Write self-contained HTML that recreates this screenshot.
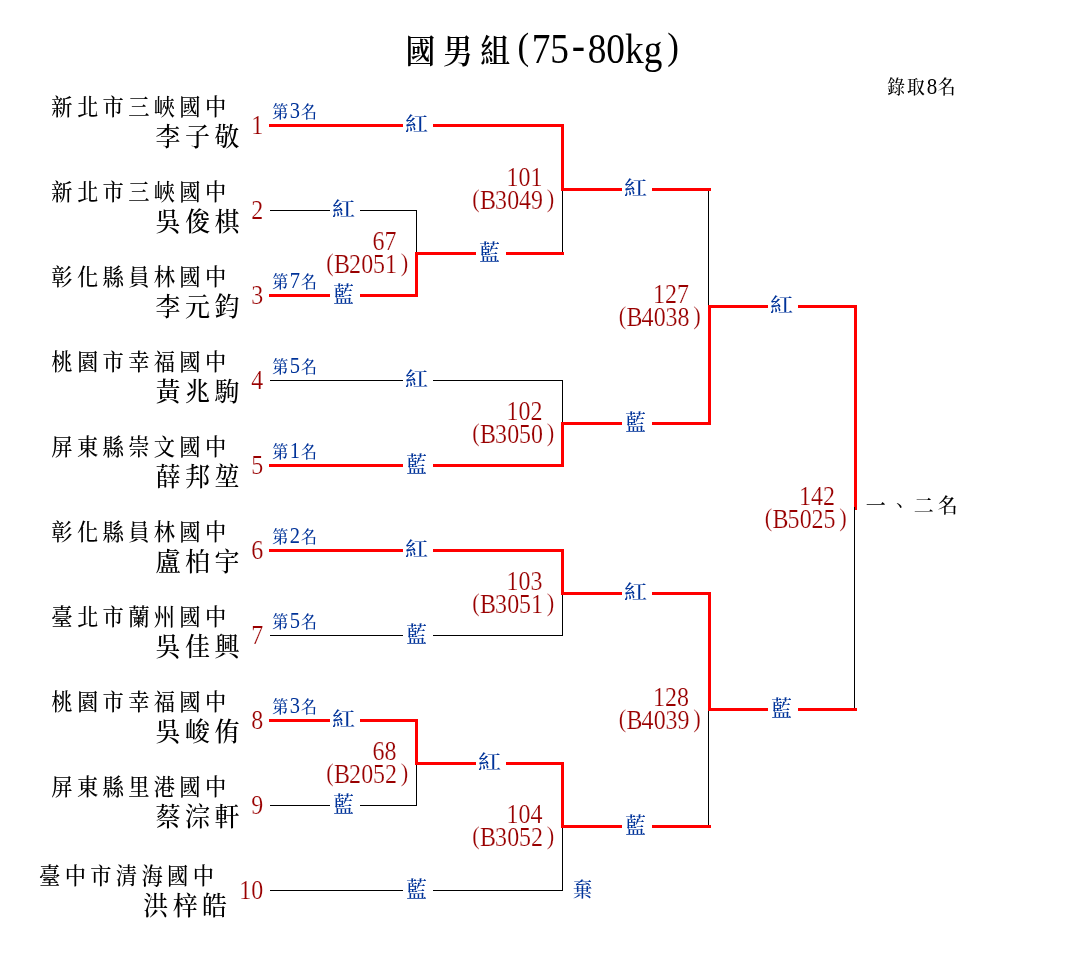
<!DOCTYPE html>
<html lang="zh-Hant">
<head>
<meta charset="utf-8">
<title>國男組(75-80kg)</title>
<style>
html,body{margin:0;padding:0;background:#fff;}
body{width:1085px;height:975px;overflow:hidden;}
svg{display:block;will-change:transform;}
rect{shape-rendering:crispEdges;}
text{font-family:"Liberation Serif","Noto Serif CJK TC","Noto Serif CJK SC",serif;font-weight:500;text-anchor:middle;white-space:pre;}
text.k{fill:#000;}
text.t{font-weight:600;}
text.n{fill:#990000;font-weight:400;stroke:#fff;stroke-width:.16px;}
tspan{font-weight:400;}
text.b{fill:#003399;}
</style>
</head>
<body>
<svg width="1085" height="975" viewBox="0 0 1085 975">
<text class="k t" transform="translate(0,62.6) scale(1,1.11)" x="420.48 457.81 495.14 523.24 541 559.66 578.33 596.99 615.66 634.32 652.99 673.15" y="0 0 0 -3.42 0 0 -2.34 0 0 0 0 -3.42" style="font-size:29.8px">國男組<tspan style="font-size:35px">(</tspan><tspan style="font-size:37.33px">75</tspan><tspan style="font-size:40px">-</tspan><tspan style="font-size:37.33px">80kg</tspan><tspan style="font-size:35px">)</tspan></text>
<text class="k" transform="translate(0,93.5) scale(1,1.08)" x="896.2 915.8 932 946.6" y="0" style="font-size:17.8px">錄取<tspan style="font-size:21px">8</tspan>名</text>
<text class="k" transform="translate(0,513) scale(1,1.02)" x="875.8 899.8 923.8 947.8" y="0" style="font-size:20px">一、二名</text>
<text class="k" transform="translate(0,114.7) scale(1,1.05)" x="62 87.6 113.2 138.8 164.4 190 215.6" y="0" style="font-size:21.3px">新北市三峽國中</text>
<text class="k" transform="translate(0,146.1) scale(1,1.06)" x="168.1 197.5 226.9" y="0" style="font-size:25px">李子敬</text>
<text class="n" transform="translate(0,133.7) scale(1,1.11)" x="257.2" y="0" style="font-size:24px">1</text>
<text class="b" transform="translate(0,118) scale(1,1.08)" x="280.2 295 308.9" y="0" style="font-size:16px">第<tspan style="font-size:20.5px">3</tspan>名</text>
<text class="k" transform="translate(0,199.7) scale(1,1.05)" x="62 87.6 113.2 138.8 164.4 190 215.6" y="0" style="font-size:21.3px">新北市三峽國中</text>
<text class="k" transform="translate(0,231.1) scale(1,1.06)" x="168.1 197.5 226.9" y="0" style="font-size:25px">吳俊棋</text>
<text class="n" transform="translate(0,218.7) scale(1,1.11)" x="257.2" y="0" style="font-size:24px">2</text>
<text class="k" transform="translate(0,284.7) scale(1,1.05)" x="62 87.6 113.2 138.8 164.4 190 215.6" y="0" style="font-size:21.3px">彰化縣員林國中</text>
<text class="k" transform="translate(0,316.1) scale(1,1.06)" x="168.1 197.5 226.9" y="0" style="font-size:25px">李元鈞</text>
<text class="n" transform="translate(0,303.7) scale(1,1.11)" x="257.2" y="0" style="font-size:24px">3</text>
<text class="b" transform="translate(0,288) scale(1,1.08)" x="280.2 295 308.9" y="0" style="font-size:16px">第<tspan style="font-size:20.5px">7</tspan>名</text>
<text class="k" transform="translate(0,369.7) scale(1,1.05)" x="62 87.6 113.2 138.8 164.4 190 215.6" y="0" style="font-size:21.3px">桃園市幸福國中</text>
<text class="k" transform="translate(0,401.1) scale(1,1.06)" x="168.1 197.5 226.9" y="0" style="font-size:25px">黃兆駒</text>
<text class="n" transform="translate(0,388.7) scale(1,1.11)" x="257.2" y="0" style="font-size:24px">4</text>
<text class="b" transform="translate(0,373) scale(1,1.08)" x="280.2 295 308.9" y="0" style="font-size:16px">第<tspan style="font-size:20.5px">5</tspan>名</text>
<text class="k" transform="translate(0,454.7) scale(1,1.05)" x="62 87.6 113.2 138.8 164.4 190 215.6" y="0" style="font-size:21.3px">屏東縣崇文國中</text>
<text class="k" transform="translate(0,486.1) scale(1,1.06)" x="168.1 197.5 226.9" y="0" style="font-size:25px">薛邦堃</text>
<text class="n" transform="translate(0,473.7) scale(1,1.11)" x="257.2" y="0" style="font-size:24px">5</text>
<text class="b" transform="translate(0,458) scale(1,1.08)" x="280.2 295 308.9" y="0" style="font-size:16px">第<tspan style="font-size:20.5px">1</tspan>名</text>
<text class="k" transform="translate(0,539.7) scale(1,1.05)" x="62 87.6 113.2 138.8 164.4 190 215.6" y="0" style="font-size:21.3px">彰化縣員林國中</text>
<text class="k" transform="translate(0,571.1) scale(1,1.06)" x="168.1 197.5 226.9" y="0" style="font-size:25px">盧柏宇</text>
<text class="n" transform="translate(0,558.7) scale(1,1.11)" x="257.2" y="0" style="font-size:24px">6</text>
<text class="b" transform="translate(0,543) scale(1,1.08)" x="280.2 295 308.9" y="0" style="font-size:16px">第<tspan style="font-size:20.5px">2</tspan>名</text>
<text class="k" transform="translate(0,624.7) scale(1,1.05)" x="62 87.6 113.2 138.8 164.4 190 215.6" y="0" style="font-size:21.3px">臺北市蘭州國中</text>
<text class="k" transform="translate(0,656.1) scale(1,1.06)" x="168.1 197.5 226.9" y="0" style="font-size:25px">吳佳興</text>
<text class="n" transform="translate(0,643.7) scale(1,1.11)" x="257.2" y="0" style="font-size:24px">7</text>
<text class="b" transform="translate(0,628) scale(1,1.08)" x="280.2 295 308.9" y="0" style="font-size:16px">第<tspan style="font-size:20.5px">5</tspan>名</text>
<text class="k" transform="translate(0,709.7) scale(1,1.05)" x="62 87.6 113.2 138.8 164.4 190 215.6" y="0" style="font-size:21.3px">桃園市幸福國中</text>
<text class="k" transform="translate(0,741.1) scale(1,1.06)" x="168.1 197.5 226.9" y="0" style="font-size:25px">吳峻侑</text>
<text class="n" transform="translate(0,728.7) scale(1,1.11)" x="257.2" y="0" style="font-size:24px">8</text>
<text class="b" transform="translate(0,713) scale(1,1.08)" x="280.2 295 308.9" y="0" style="font-size:16px">第<tspan style="font-size:20.5px">3</tspan>名</text>
<text class="k" transform="translate(0,794.7) scale(1,1.05)" x="62 87.6 113.2 138.8 164.4 190 215.6" y="0" style="font-size:21.3px">屏東縣里港國中</text>
<text class="k" transform="translate(0,826.1) scale(1,1.06)" x="168.1 197.5 226.9" y="0" style="font-size:25px">蔡淙軒</text>
<text class="n" transform="translate(0,813.7) scale(1,1.11)" x="257.2" y="0" style="font-size:24px">9</text>
<text class="k" transform="translate(0,883.7) scale(1,1.05)" x="49.7 75.3 100.9 126.5 152.1 177.7 203.3" y="0" style="font-size:21.3px">臺中市清海國中</text>
<text class="k" transform="translate(0,915.1) scale(1,1.06)" x="155.8 185.2 214.6" y="0" style="font-size:25px">洪梓皓</text>
<text class="n" transform="translate(0,898.7) scale(1,1.11)" x="245.2 257.2" y="0" style="font-size:24px">10</text>
<rect x="270" y="210" width="60" height="1" fill="#000000"/>
<rect x="360" y="210" width="57" height="1" fill="#000000"/>
<text class="b" transform="translate(0,215.7) scale(1.1,0.94)" x="312.36" y="0" style="font-size:21px">紅</text>
<rect x="269" y="294" width="61" height="3" fill="#ff0000"/>
<rect x="360" y="294" width="58" height="3" fill="#ff0000"/>
<text class="b" transform="translate(0,302) scale(1,1.03)" x="343.4" y="0" style="font-size:21px">藍</text>
<rect x="415" y="252" width="3" height="45" fill="#ff0000"/>
<rect x="416" y="210" width="1" height="42" fill="#000000"/>
<text class="n" transform="translate(0,249.7) scale(1,1.11)" x="378.4 390.4" y="0" style="font-size:24px">67</text>
<text class="n" transform="translate(0,272.7) scale(1,1.11)" x="330 342 355.1 367.2 379 391 404.6" y="-1.44 0 0 0 0 0 -1.44" style="font-size:24px"><tspan style="font-size:22.5px">(</tspan><tspan style="font-size:24px">B2051</tspan><tspan style="font-size:22.5px">)</tspan></text>
<rect x="269" y="719" width="61" height="3" fill="#ff0000"/>
<rect x="360" y="719" width="58" height="3" fill="#ff0000"/>
<text class="b" transform="translate(0,725.7) scale(1.1,0.94)" x="312.36" y="0" style="font-size:21px">紅</text>
<rect x="270" y="805" width="60" height="1" fill="#000000"/>
<rect x="360" y="805" width="57" height="1" fill="#000000"/>
<text class="b" transform="translate(0,812) scale(1,1.03)" x="343.4" y="0" style="font-size:21px">藍</text>
<rect x="415" y="719" width="3" height="46" fill="#ff0000"/>
<rect x="416" y="765" width="1" height="41" fill="#000000"/>
<text class="n" transform="translate(0,759.7) scale(1,1.11)" x="378.4 390.4" y="0" style="font-size:24px">68</text>
<text class="n" transform="translate(0,782.7) scale(1,1.11)" x="330 342 355.1 367.2 379 391 404.6" y="-1.44 0 0 0 0 0 -1.44" style="font-size:24px"><tspan style="font-size:22.5px">(</tspan><tspan style="font-size:24px">B2052</tspan><tspan style="font-size:22.5px">)</tspan></text>
<rect x="269" y="124" width="134" height="3" fill="#ff0000"/>
<rect x="433" y="124" width="131" height="3" fill="#ff0000"/>
<text class="b" transform="translate(0,130.7) scale(1.1,0.94)" x="378.73" y="0" style="font-size:21px">紅</text>
<rect x="415" y="252" width="61" height="3" fill="#ff0000"/>
<rect x="506" y="252" width="58" height="3" fill="#ff0000"/>
<text class="b" transform="translate(0,260) scale(1,1.03)" x="489.4" y="0" style="font-size:21px">藍</text>
<rect x="561" y="124" width="3" height="67" fill="#ff0000"/>
<rect x="562" y="191" width="1" height="61" fill="#000000"/>
<text class="n" transform="translate(0,185.7) scale(1,1.11)" x="512.4 524.4 536.4" y="0" style="font-size:24px">101</text>
<text class="n" transform="translate(0,208.7) scale(1,1.11)" x="476 488 501.1 513.2 525 537 550.6" y="-1.44 0 0 0 0 0 -1.44" style="font-size:24px"><tspan style="font-size:22.5px">(</tspan><tspan style="font-size:24px">B3049</tspan><tspan style="font-size:22.5px">)</tspan></text>
<rect x="270" y="380" width="133" height="1" fill="#000000"/>
<rect x="433" y="380" width="130" height="1" fill="#000000"/>
<text class="b" transform="translate(0,385.7) scale(1.1,0.94)" x="378.73" y="0" style="font-size:21px">紅</text>
<rect x="269" y="464" width="134" height="3" fill="#ff0000"/>
<rect x="433" y="464" width="131" height="3" fill="#ff0000"/>
<text class="b" transform="translate(0,472) scale(1,1.03)" x="416.4" y="0" style="font-size:21px">藍</text>
<rect x="561" y="422" width="3" height="45" fill="#ff0000"/>
<rect x="562" y="380" width="1" height="42" fill="#000000"/>
<text class="n" transform="translate(0,419.7) scale(1,1.11)" x="512.4 524.4 536.4" y="0" style="font-size:24px">102</text>
<text class="n" transform="translate(0,442.7) scale(1,1.11)" x="476 488 501.1 513.2 525 537 550.6" y="-1.44 0 0 0 0 0 -1.44" style="font-size:24px"><tspan style="font-size:22.5px">(</tspan><tspan style="font-size:24px">B3050</tspan><tspan style="font-size:22.5px">)</tspan></text>
<rect x="269" y="549" width="134" height="3" fill="#ff0000"/>
<rect x="433" y="549" width="131" height="3" fill="#ff0000"/>
<text class="b" transform="translate(0,555.7) scale(1.1,0.94)" x="378.73" y="0" style="font-size:21px">紅</text>
<rect x="270" y="635" width="133" height="1" fill="#000000"/>
<rect x="433" y="635" width="130" height="1" fill="#000000"/>
<text class="b" transform="translate(0,642) scale(1,1.03)" x="416.4" y="0" style="font-size:21px">藍</text>
<rect x="561" y="549" width="3" height="46" fill="#ff0000"/>
<rect x="562" y="595" width="1" height="41" fill="#000000"/>
<text class="n" transform="translate(0,589.7) scale(1,1.11)" x="512.4 524.4 536.4" y="0" style="font-size:24px">103</text>
<text class="n" transform="translate(0,612.7) scale(1,1.11)" x="476 488 501.1 513.2 525 537 550.6" y="-1.44 0 0 0 0 0 -1.44" style="font-size:24px"><tspan style="font-size:22.5px">(</tspan><tspan style="font-size:24px">B3051</tspan><tspan style="font-size:22.5px">)</tspan></text>
<rect x="415" y="762" width="61" height="3" fill="#ff0000"/>
<rect x="506" y="762" width="58" height="3" fill="#ff0000"/>
<text class="b" transform="translate(0,768.7) scale(1.1,0.94)" x="445.09" y="0" style="font-size:21px">紅</text>
<rect x="270" y="890" width="133" height="1" fill="#000000"/>
<rect x="433" y="890" width="130" height="1" fill="#000000"/>
<text class="b" transform="translate(0,897) scale(1,1.03)" x="416.4" y="0" style="font-size:21px">藍</text>
<rect x="561" y="762" width="3" height="66" fill="#ff0000"/>
<rect x="562" y="828" width="1" height="63" fill="#000000"/>
<text class="n" transform="translate(0,822.7) scale(1,1.11)" x="512.4 524.4 536.4" y="0" style="font-size:24px">104</text>
<text class="n" transform="translate(0,845.7) scale(1,1.11)" x="476 488 501.1 513.2 525 537 550.6" y="-1.44 0 0 0 0 0 -1.44" style="font-size:24px"><tspan style="font-size:22.5px">(</tspan><tspan style="font-size:24px">B3052</tspan><tspan style="font-size:22.5px">)</tspan></text>
<text class="b" transform="translate(0,896.5) scale(1,1.05)" x="582.6" y="0" style="font-size:19.5px">棄</text>
<rect x="561" y="188" width="61" height="3" fill="#ff0000"/>
<rect x="652" y="188" width="59" height="3" fill="#ff0000"/>
<text class="b" transform="translate(0,194.7) scale(1.1,0.94)" x="577.82" y="0" style="font-size:21px">紅</text>
<rect x="561" y="422" width="61" height="3" fill="#ff0000"/>
<rect x="652" y="422" width="59" height="3" fill="#ff0000"/>
<text class="b" transform="translate(0,430) scale(1,1.03)" x="635.4" y="0" style="font-size:21px">藍</text>
<rect x="708" y="305" width="3" height="120" fill="#ff0000"/>
<rect x="708" y="191" width="1" height="114" fill="#000000"/>
<text class="n" transform="translate(0,302.7) scale(1,1.11)" x="658.9 670.9 682.9" y="0" style="font-size:24px">127</text>
<text class="n" transform="translate(0,325.7) scale(1,1.11)" x="622.5 634.5 647.6 659.7 671.5 683.5 697.1" y="-1.44 0 0 0 0 0 -1.44" style="font-size:24px"><tspan style="font-size:22.5px">(</tspan><tspan style="font-size:24px">B4038</tspan><tspan style="font-size:22.5px">)</tspan></text>
<rect x="561" y="592" width="61" height="3" fill="#ff0000"/>
<rect x="652" y="592" width="59" height="3" fill="#ff0000"/>
<text class="b" transform="translate(0,598.7) scale(1.1,0.94)" x="577.82" y="0" style="font-size:21px">紅</text>
<rect x="561" y="825" width="61" height="3" fill="#ff0000"/>
<rect x="652" y="825" width="59" height="3" fill="#ff0000"/>
<text class="b" transform="translate(0,833) scale(1,1.03)" x="635.4" y="0" style="font-size:21px">藍</text>
<rect x="708" y="592" width="3" height="119" fill="#ff0000"/>
<rect x="708" y="711" width="1" height="114" fill="#000000"/>
<text class="n" transform="translate(0,705.7) scale(1,1.11)" x="658.9 670.9 682.9" y="0" style="font-size:24px">128</text>
<text class="n" transform="translate(0,728.7) scale(1,1.11)" x="622.5 634.5 647.6 659.7 671.5 683.5 697.1" y="-1.44 0 0 0 0 0 -1.44" style="font-size:24px"><tspan style="font-size:22.5px">(</tspan><tspan style="font-size:24px">B4039</tspan><tspan style="font-size:22.5px">)</tspan></text>
<rect x="708" y="305" width="60" height="3" fill="#ff0000"/>
<rect x="798" y="305" width="59" height="3" fill="#ff0000"/>
<text class="b" transform="translate(0,311.7) scale(1.1,0.94)" x="710.55" y="0" style="font-size:21px">紅</text>
<rect x="708" y="708" width="60" height="3" fill="#ff0000"/>
<rect x="798" y="708" width="59" height="3" fill="#ff0000"/>
<text class="b" transform="translate(0,716) scale(1,1.03)" x="781.4" y="0" style="font-size:21px">藍</text>
<rect x="854" y="305" width="3" height="205" fill="#ff0000"/>
<rect x="854" y="507" width="1" height="201" fill="#000000"/>
<text class="n" transform="translate(0,504.7) scale(1,1.11)" x="804.9 816.9 828.9" y="0" style="font-size:24px">142</text>
<text class="n" transform="translate(0,527.7) scale(1,1.11)" x="768.5 780.5 793.6 805.7 817.5 829.5 843.1" y="-1.44 0 0 0 0 0 -1.44" style="font-size:24px"><tspan style="font-size:22.5px">(</tspan><tspan style="font-size:24px">B5025</tspan><tspan style="font-size:22.5px">)</tspan></text>
</svg>
</body>
</html>
